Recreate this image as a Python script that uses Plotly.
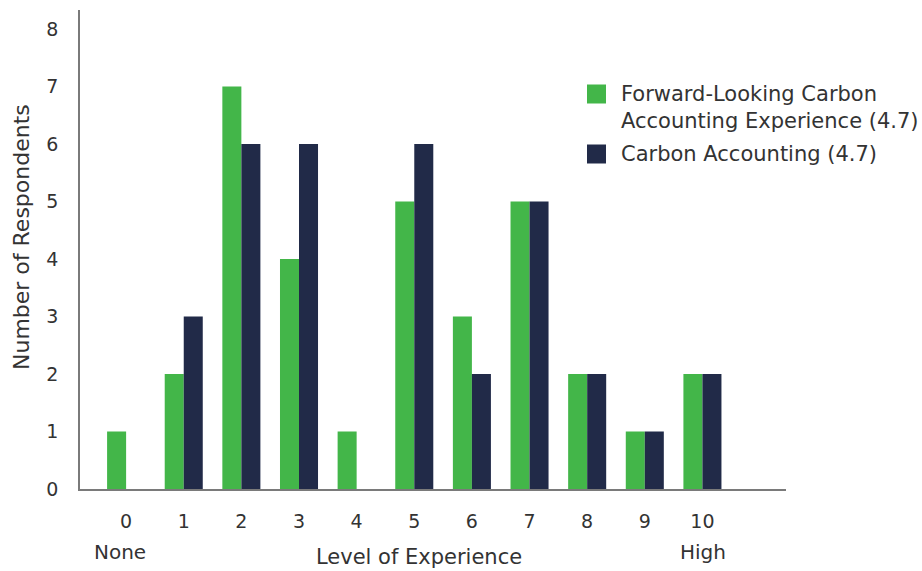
import plotly.graph_objects as go

# Survey responses by self-rated level of experience (0 = none, 10 = high)
levels = [0, 1, 2, 3, 4, 5, 6, 7, 8, 9, 10]
forward_looking = [1, 2, 7, 4, 1, 5, 3, 5, 2, 1, 2]
carbon_accounting = [0, 3, 6, 6, 0, 6, 2, 5, 2, 1, 2]
series_names = ["Forward-Looking Carbon<br>Accounting Experience (4.7)", "Carbon Accounting (4.7)"]
y_ticks = [0, 1, 2, 3, 4, 5, 6, 7, 8]

GREEN = "#43b649"
NAVY = "#212a48"
TEXT = "#333333"
AXIS = "#7a7a7a"
FONT = "DejaVu Sans, sans-serif"

fig = go.Figure()
fig.add_trace(go.Bar(x=levels, y=forward_looking, marker_color=GREEN,
                     marker_line_width=0, name=series_names[0], showlegend=False))
fig.add_trace(go.Bar(x=levels, y=carbon_accounting, marker_color=NAVY,
                     marker_line_width=0, name=series_names[1], showlegend=False))

fig.update_layout(
    width=922, height=571,
    margin=dict(l=80, r=136, t=10, b=82),
    paper_bgcolor="white", plot_bgcolor="white",
    barmode="group", bargap=0.34, bargroupgap=0,
    font=dict(family=FONT, size=19, color=TEXT),
)
fig.update_xaxes(
    range=[-0.8, 11.45], tickmode="array", tickvals=levels,
    ticktext=[str(v) for v in levels],
    showgrid=False, zeroline=False, showline=True, linecolor=AXIS, linewidth=1.5,
    ticks="", ticklabelstandoff=14, tickfont=dict(size=19, color=TEXT),
)
fig.update_yaxes(
    range=[0, 8.33], tickmode="array", tickvals=y_ticks,
    showgrid=False, zeroline=False, showline=True, linecolor=AXIS, linewidth=1.5,
    ticks="", ticklabelstandoff=16, tickfont=dict(size=19, color=TEXT),
)

# Axis titles and end-of-scale labels
fig.add_annotation(text="Number of Respondents", xref="paper", yref="paper",
                   x=-(80 - 21) / 706, y=(489 - 237) / 479, textangle=-90, showarrow=False,
                   xanchor="center", yanchor="middle", font=dict(size=22, color=TEXT))
fig.add_annotation(text="Level of Experience", xref="paper", yref="paper",
                   x=(419 - 80) / 706, y=-(557 - 489) / 479, showarrow=False,
                   xanchor="center", yanchor="middle", font=dict(size=21, color=TEXT))
fig.add_annotation(text="None", xref="paper", yref="paper", x=(120 - 80) / 706,
                   y=-(552 - 489) / 479, showarrow=False, xanchor="center", yanchor="middle",
                   font=dict(size=20, color=TEXT))
fig.add_annotation(text="High", xref="paper", yref="paper", x=(703 - 80) / 706,
                   y=-(552 - 489) / 479, showarrow=False, xanchor="center", yanchor="middle",
                   font=dict(size=20, color=TEXT))

# Legend: colour swatches with their series labels
legend_items = [(GREEN, series_names[0], 94, 107), (NAVY, series_names[1], 154, 154)]
for color, label, swatch_y, text_y in legend_items:
    fig.add_shape(type="rect", xref="paper", yref="paper",
                  x0=(587 - 80) / 706, x1=(606 - 80) / 706,
                  y0=(489 - swatch_y - 9.5) / 479, y1=(489 - swatch_y + 9.5) / 479,
                  fillcolor=color, line_width=0)
    fig.add_annotation(text=label, xref="paper", yref="paper",
                       x=(619 - 80) / 706, y=(489 - text_y) / 479, showarrow=False,
                       xanchor="left", yanchor="middle", align="left",
                       font=dict(size=21, color=TEXT))

fig.write_html("out.html")
